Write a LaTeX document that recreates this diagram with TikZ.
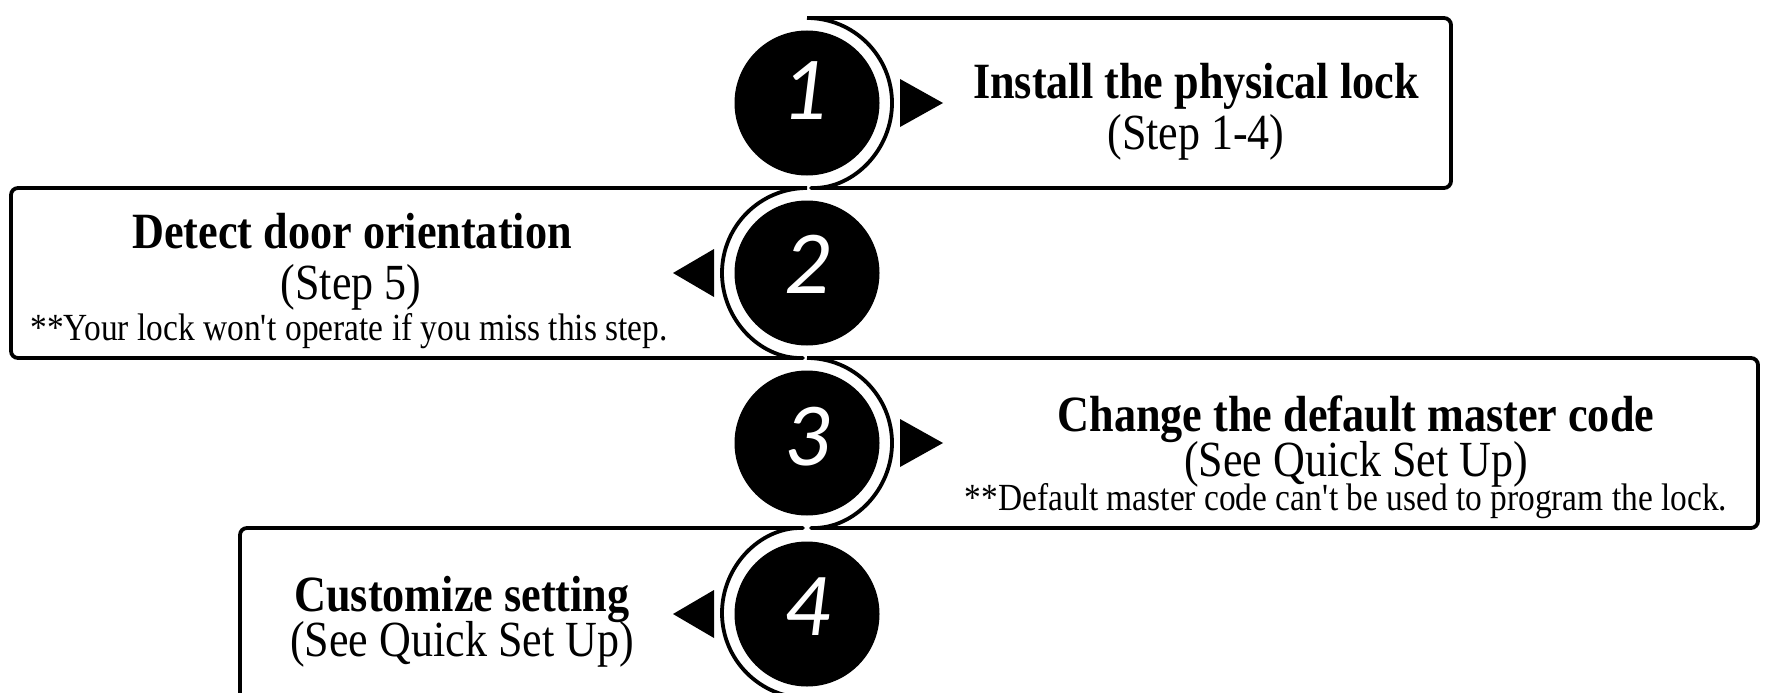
\documentclass[tikz,border=0pt]{standalone}
\usepackage{fontspec}
\setmainfont{Liberation Serif}[FakeStretch=0.87]
\newfontfamily\headfont{Liberation Serif Bold}[FakeStretch=0.87]
\newfontfamily\digitfont{Carlito}
\newcommand\sq{{\XeTeXglyph\XeTeXglyphindex "quotesingle"\relax}}
\begin{document}
\begin{tikzpicture}[x=1pt,y=-1pt]
\tikzset{
  disk/.style={circle, fill=black, minimum size=145pt, inner sep=0pt},
  digit/.style={inner sep=0pt, text=white, font=\digitfont\itshape\fontsize{90}{90}\selectfont},
  boxline/.style={draw=black, line width=3.8pt, line join=round, rounded corners=7pt},
  tri/.style={fill=black},
  headtext/.style={anchor=base, inner sep=0pt, font=\headfont\fontsize{50.8}{56}\selectfont},
  subtext/.style={anchor=base, inner sep=0pt, font=\fontsize{50.6}{56}\selectfont},
  notetext/.style={anchor=base, inner sep=0pt, font=\fontsize{38.4}{44}\selectfont}
}
\useasboundingbox (0,0) rectangle (1767,693);
\clip (0,0) rectangle (1767,693);
% circle centres
\coordinate (o1) at (807,103);
\coordinate (o2) at (807,273);
\coordinate (o3) at (807,443);
\coordinate (o4) at (807,614);
% box outlines
\draw[boxline] (807,18) -- (1451,18) -- (1451,188) -- (807,188)
   arc[start angle=-90, end angle=90, radius=85pt];
\draw[boxline] (807,188) -- (11,188) -- (11,358) -- (807,358)
   arc[start angle=-90, end angle=-270, radius=85pt];
\draw[boxline] (807,358) -- (1758,358) -- (1758,528) -- (807,528)
   arc[start angle=-90, end angle=90, radius=85pt];
\draw[boxline] (807,698) arc[start angle=-90, end angle=-270, radius=85pt]
   -- (240,528) -- (240,760);
% disks
\node[disk] (c1) at (o1) {};
\node[disk] (c2) at (o2) {};
\node[disk] (c3) at (o3) {};
\node[disk] (c4) at (o4) {};
\node[digit] (d1) at ([yshift=12pt,xshift=-3pt]c1.center) {1};
\node[digit] (d2) at ([yshift=9pt]c2.center) {2};
\node[digit] (d3) at ([yshift=6pt]c3.center) {3};
\node[digit] (d4) at ([yshift=7pt]c4.center) {4};
% triangles
\fill[tri] (900,79) -- (943,103) -- (900,127) -- cycle;
\fill[tri] (714,249) -- (673,273) -- (714,297) -- cycle;
\fill[tri] (900,419) -- (943,443) -- (900,467) -- cycle;
\fill[tri] (714,590) -- (673,614) -- (714,638) -- cycle;
% texts
\node[headtext] (h1) at (1196,99) {Install the physical lock};
\node[subtext] (s1) at (1196,149) {(Step 1-4)};
\node[headtext] (h2) at (352,248) {Detect door orientation};
\node[subtext] (s2) at (351,299) {(Step 5)};
\node[notetext] (n2) at (349,340) {**Your lock won\sq t operate if you miss this step.};
\node[headtext] (h3) at (1356,431) {Change the default master code};
\node[subtext] (s3) at (1356,476) {(See Quick Set Up)};
\node[notetext] (n3) at (1346,510) {**Default master code can\sq t be used to program the lock.};
\node[headtext] (h4) at (462,611) {Customize setting};
\node[subtext] (s4) at (462,656) {(See Quick Set Up)};
\end{tikzpicture}
\end{document}
